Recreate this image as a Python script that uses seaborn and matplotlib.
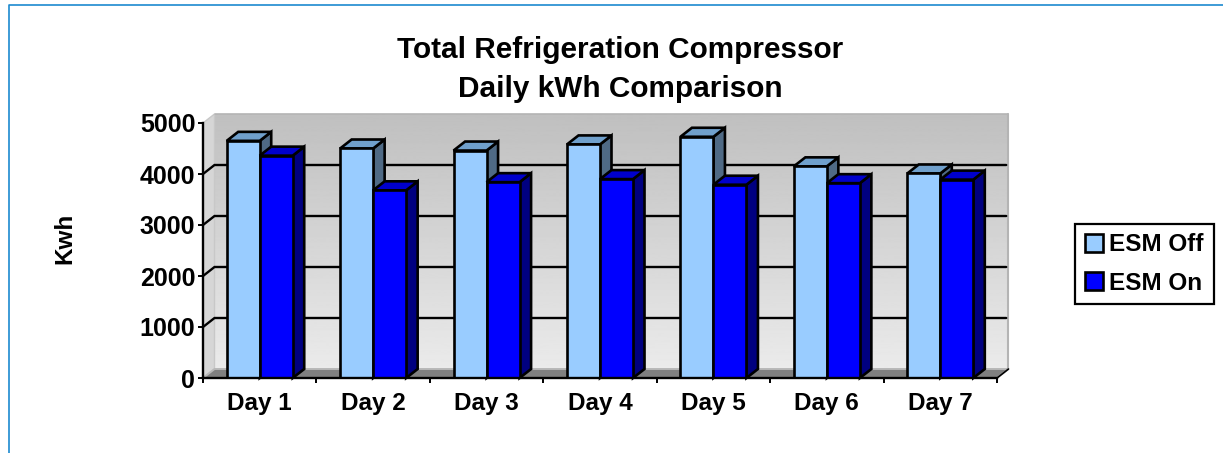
import numpy as np
import pandas as pd
import seaborn as sns
import matplotlib
matplotlib.use('Agg')
import matplotlib.pyplot as plt
from matplotlib.lines import Line2D
from matplotlib.patches import Polygon, Patch

# Values
days = ['Day 1', 'Day 2', 'Day 3', 'Day 4', 'Day 5', 'Day 6', 'Day 7']
esm_off = [4650, 4500, 4460, 4580, 4730, 4150, 4010]
esm_on = [4360, 3680, 3840, 3900, 3790, 3820, 3890]
y_ticks = [0, 1000, 2000, 3000, 4000, 5000]

df = pd.DataFrame({'Day': days * 2,
                   'Kwh': esm_off + esm_on,
                   'Series': ['ESM Off'] * 7 + ['ESM On'] * 7})

front_colors = {'ESM Off': '#99CCFF', 'ESM On': '#0000FF'}
top_colors = ['#70A0CC', '#0000CC']
side_colors = ['#4F6A85', '#000080']

sns.set_style('white')
plt.rcParams['font.family'] = ['Liberation Sans', 'DejaVu Sans']
plt.rcParams['text.color'] = 'black'
plt.rcParams['xtick.color'] = 'black'
plt.rcParams['ytick.color'] = 'black'

W, H = 1223, 453
fig = plt.figure(figsize=(W / 100, H / 100), dpi=100)
ax = fig.add_axes([203 / W, 1 - 378 / H, 794 / W, 255 / H])

sns.barplot(data=df, x='Day', y='Kwh', hue='Series', palette=front_colors,
            width=0.582, gap=0, dodge=True, saturation=1, legend=False,
            edgecolor='black', linewidth=1.9, ax=ax, zorder=5)

ax.set_xlim(-0.5, 6.5)
ax.set_ylim(0, 5000)

# depth of the fake 3D box, in data units
dx = 11.5 / (794 / 7)
dy = 9 / (255 / 5000)
x0, x1 = -0.5, 6.5
y0, y1 = 0, 5000

# back wall with grey gradient
grad = np.linspace(0.75, 0.92, 256).reshape(-1, 1)
ax.imshow(grad, cmap='gray', vmin=0, vmax=1, aspect='auto', origin='upper',
          extent=(x0 + dx, x1 + dx, y0 + dy, y1 + dy), zorder=0, clip_on=False)
ax.set_xlim(x0, x1)
ax.set_ylim(y0, y1)

# left wall and floor
ax.add_patch(Polygon([(x0, y0), (x0 + dx, y0 + dy), (x0 + dx, y1 + dy), (x0, y1)],
                     fc='#D6D6D6', ec='#C8C8C8', lw=1, zorder=0.5, clip_on=False))
ax.add_patch(Polygon([(x0, y0), (x0 + dx, y0 + dy), (x1 + dx, y0 + dy), (x1, y0)],
                     fc='#808080', ec='#B8B8B8', lw=1.4, zorder=0.5, clip_on=False))
ax.plot([x1 + dx, x1 + dx], [y0 + dy, y1 + dy], color='#B4B4B4', lw=1.5, zorder=0.6, clip_on=False)
ax.plot([x0 + dx, x1 + dx], [y1 + dy, y1 + dy], color='#B4B4B4', lw=1.2, zorder=0.6, clip_on=False)

# grid lines on the wall, with the diagonal back from each tick
for v in y_ticks[:-1]:
    if v > 0:
        ax.plot([x0, x0 + dx, x1 + dx - 0.02], [v, v + dy, v + dy], color='black', lw=1.7,
                zorder=1, clip_on=False, solid_joinstyle='miter')
ax.plot([x1, x1 + dx], [y0, y0 + dy], color='black', lw=1.2, zorder=1, clip_on=False)

# side and top faces of each bar
for i, cont in enumerate(ax.containers):
    for bar in cont:
        bx, bw, bh = bar.get_x(), bar.get_width(), bar.get_height()
        bar.set_zorder(3 + 2 * i)
        ax.add_patch(Polygon([(bx + bw, 0), (bx + bw + dx, dy), (bx + bw + dx, bh + dy), (bx + bw, bh)],
                             fc=side_colors[i], ec='black', lw=1.9, zorder=2 + 2 * i, clip_on=False))
        ax.add_patch(Polygon([(bx, bh), (bx + dx, bh + dy), (bx + bw + dx, bh + dy), (bx + bw, bh)],
                             fc=top_colors[i], ec='black', lw=1.9, zorder=2 + 2 * i, clip_on=False))

# axes and ticks
sns.despine(ax=ax, top=True, right=True)
for s in ['left', 'bottom']:
    ax.spines[s].set_linewidth(1.7)
    ax.spines[s].set_color('black')
    ax.spines[s].set_zorder(8)

ax.set_yticks(y_ticks)
ax.set_yticklabels([str(v) for v in y_ticks], fontsize=18, fontweight='bold')
ax.set_xticks(np.arange(-0.5, 7, 1))
ax.set_xticklabels([''] * 8)
ax.set_xticks(range(7), labels=days, minor=True, fontsize=17.5, fontweight='bold')
ax.tick_params(axis='both', which='major', length=3.5, width=1.4, color='black', left=True, bottom=True, direction='out')
ax.tick_params(axis='y', which='major', pad=2)
ax.tick_params(axis='x', which='minor', length=0, pad=10)
ax.set_xlabel('')
ax.set_ylabel('')

fig.text(65 / W, 1 - 238 / H, 'Kwh', rotation=90, fontsize=17.5, fontweight='bold', ha='center', va='center')
fig.text(620 / W, 1 - 69.5 / H, 'Total Refrigeration Compressor\nDaily kWh Comparison',
         fontsize=21.4, fontweight='bold', ha='center', va='center', linespacing=1.47)

handles = [Patch(fc=front_colors[k], ec='black', lw=1.9) for k in front_colors]
fig.legend(handles, list(front_colors), loc='center', bbox_to_anchor=(1144.5 / W, 1 - 264 / H),
           prop={'size': 17.5, 'weight': 'bold'}, frameon=True, fancybox=False, edgecolor='black',
           framealpha=1, handlelength=0.72, handleheight=0.72, handletextpad=0.28,
           labelspacing=0.62, borderpad=0.4, borderaxespad=0).get_frame().set_linewidth(1.6)

# thin blue frame round the picture
fig.add_artist(Line2D([8.5 / W, 8.5 / W, 1], [0, 1 - 5 / H, 1 - 5 / H], color='#1C8AD0', lw=1.2))

fig.savefig('out.png', dpi=100)
